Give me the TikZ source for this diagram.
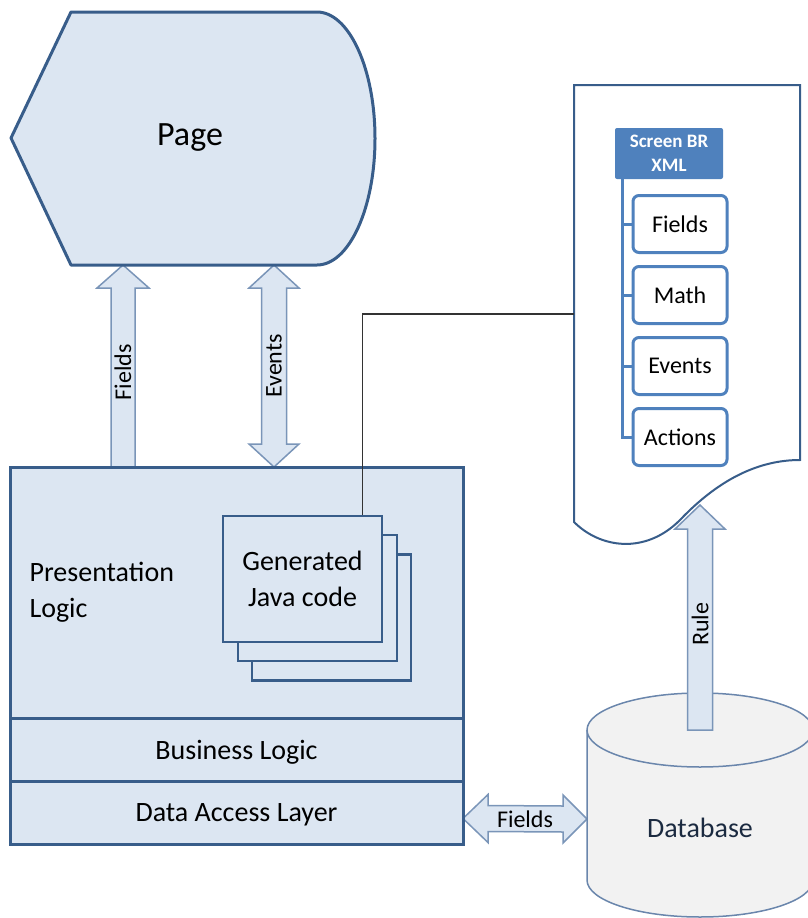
\documentclass[tikz,border=0pt]{standalone}
\usepackage{fontspec}
\setmainfont{Carlito}
\usetikzlibrary{positioning,calc,backgrounds}

\definecolor{edgeblue}{HTML}{385D8A}
\definecolor{paleblue}{HTML}{DCE6F2}
\definecolor{midblue}{HTML}{4F81BD}
\definecolor{arrowedge}{HTML}{7A95B8}
\definecolor{dbgray}{HTML}{F2F2F2}
\definecolor{dbedge}{HTML}{6A86AC}
\definecolor{dbtext}{HTML}{1B2A40}

\tikzset{
  layerbox/.style={draw=edgeblue, fill=paleblue, line width=3pt, inner sep=0pt, outer sep=0pt, minimum width=453pt, text depth=0pt, font=\fontsize{28}{36}\selectfont},
  genbox/.style={draw=edgeblue, fill=paleblue, line width=2.5pt, inner sep=0pt, minimum width=159pt, minimum height=126pt},
  itembox/.style={draw=midblue, fill=white, line width=3pt, rounded corners=6pt, inner sep=0pt, minimum width=94pt, minimum height=57pt, font=\fontsize{24}{28}\selectfont},
  blockarrow/.style={draw=arrowedge, fill=paleblue, line width=1.5pt},
  arrowlabel/.style={inner sep=0pt, font=\fontsize{24}{28}\selectfont},
  wire/.style={draw=black!80, line width=1.5pt},
  bigtext/.style={align=center, font=\fontsize{28}{36}\selectfont}
}

\begin{document}
\begin{tikzpicture}[x=1pt, y=-1pt]
\useasboundingbox (0,0) rectangle (808,918);

% page
\draw[edgeblue, line width=3pt, fill=paleblue, line join=round] (11,138) -- (71,12) -- (317,12)
  .. controls (349,12) and (375,68.7) .. (375,138.5)
  .. controls (375,208.3) and (349,265) .. (317,265) -- (71,265) -- cycle;
\node[font=\fontsize{34}{40}\selectfont] (page) at (190,138) {Page};

% screen document
\draw[edgeblue, line width=2pt, fill=white] (574,85) -- (800,85) -- (800,460)
  .. controls (760,460) and (720,478) .. (680,520)
  .. controls (645,555) and (600,548) .. (574,522) -- cycle;
\coordinate (docjoin) at (574,314);

% database
\fill[dbgray] (587,730) rectangle (813,880);
\fill[dbgray] (700,880) ellipse [x radius=113, y radius=37];
\draw[dbedge, line width=1.5pt] (587,730) -- (587,880) arc [start angle=180, end angle=0, x radius=113, y radius=37] -- (813,730);
\draw[dbedge, line width=1.5pt, fill=dbgray] (700,730) ellipse [x radius=113, y radius=37];
\node[font=\fontsize{28}{34}\selectfont, text=dbtext] (db) at (700,828) {Database};
\coordinate (dbtop) at (700,730);
\coordinate (dbside) at (587,819);

% layers
\node[layerbox, minimum height=251pt] (pres) at (236.5,592.5) {};
\node[layerbox, minimum height=63pt, below=0pt of pres] (busi) {Business Logic};
\node[layerbox, minimum height=63pt, below=0pt of busi] (dal) {Data Access Layer};
\node[bigtext, align=left, anchor=west] (prestext) at ($(pres.west)+(16,0)$) {Presentation\\Logic};

% generated code stack
\node[genbox] (gen3) at (331.5,617.5) {};
\node[genbox] (gen2) at (317.5,598) {};
\node[genbox, bigtext] (gen1) at (302.5,579) {Generated\\Java code};
\draw[wire] ($(gen1.north east)+(-21,0)$) |- (docjoin);

% xml tree
\node[fill=midblue, text=white, rounded corners=2pt, inner sep=0pt, minimum width=108pt, minimum height=51pt,
  align=center, font=\bfseries\fontsize{19}{24}\selectfont] (xml) at (669,153.5) {Screen BR\\XML};
\node[itembox] (fld) at (680,224) {Fields};
\node[itembox, below=11pt of fld] (mth) {Math};
\node[itembox, below=11pt of mth] (evt) {Events};
\node[itembox, below=11pt of evt] (act) {Actions};
\coordinate (treetop) at ($(xml.south west)+(8,0)$);
\draw[midblue, line width=3pt] (treetop) |- (act.west);
\foreach \n in {fld,mth,evt}
  \draw[midblue, line width=3pt] (treetop |- \n.west) -- (\n.west);

% block arrows
\coordinate (fieldtip) at (123,265);
\coordinate (fieldtail) at (fieldtip |- pres.north);
\coordinate (eventtop) at (274,265);
\coordinate (eventbot) at (eventtop |- pres.north);
\coordinate (daltip) at ($(dal.east)+(0,6)$);
\coordinate (ruletip) at (700,505);
\begin{scope}[on background layer]
\draw[blockarrow] ($(fieldtail)+(-12,0)$) -- ($(fieldtip)+(-12,23)$) -- ($(fieldtip)+(-26,23)$) -- (fieldtip)
  -- ($(fieldtip)+(26,23)$) -- ($(fieldtip)+(12,23)$) -- ($(fieldtail)+(12,0)$) -- cycle;
\draw[blockarrow] (eventtop) -- ($(eventtop)+(25,23)$) -- ($(eventtop)+(12.5,23)$) -- ($(eventbot)+(12.5,-23)$)
  -- ($(eventbot)+(25,-23)$) -- (eventbot) -- ($(eventbot)+(-25,-23)$) -- ($(eventbot)+(-12.5,-23)$)
  -- ($(eventtop)+(-12.5,23)$) -- ($(eventtop)+(-25,23)$) -- cycle;
\draw[blockarrow] (daltip) -- ($(daltip)+(25,-24)$) -- ($(daltip)+(25,-13)$) -- ($(dbside)+(-24,-13)$)
  -- ($(dbside)+(-24,-24)$) -- (dbside) -- ($(dbside)+(-24,24)$) -- ($(dbside)+(-24,13)$)
  -- ($(daltip)+(25,13)$) -- ($(daltip)+(25,24)$) -- cycle;
\end{scope}
\draw[blockarrow] ($(dbtop)+(-12.5,0)$) -- ($(ruletip)+(-12.5,24)$) -- ($(ruletip)+(-25,24)$) -- (ruletip)
  -- ($(ruletip)+(25,24)$) -- ($(ruletip)+(12.5,24)$) -- ($(dbtop)+(12.5,0)$) -- cycle;

% arrow labels
\node[arrowlabel, rotate=90] (fieldlbl) at ($(fieldtip)!0.53!(fieldtail)$) {Fields};
\node[arrowlabel, rotate=90] (eventlbl) at ($(eventtop)!0.5!(eventbot)$) {Events};
\node[arrowlabel] (dallbl) at ($(daltip)!0.5!(dbside)$) {Fields};
\node[arrowlabel, rotate=90] (rulelbl) at ($(ruletip)!0.53!(dbtop)$) {Rule};
\end{tikzpicture}
\end{document}
